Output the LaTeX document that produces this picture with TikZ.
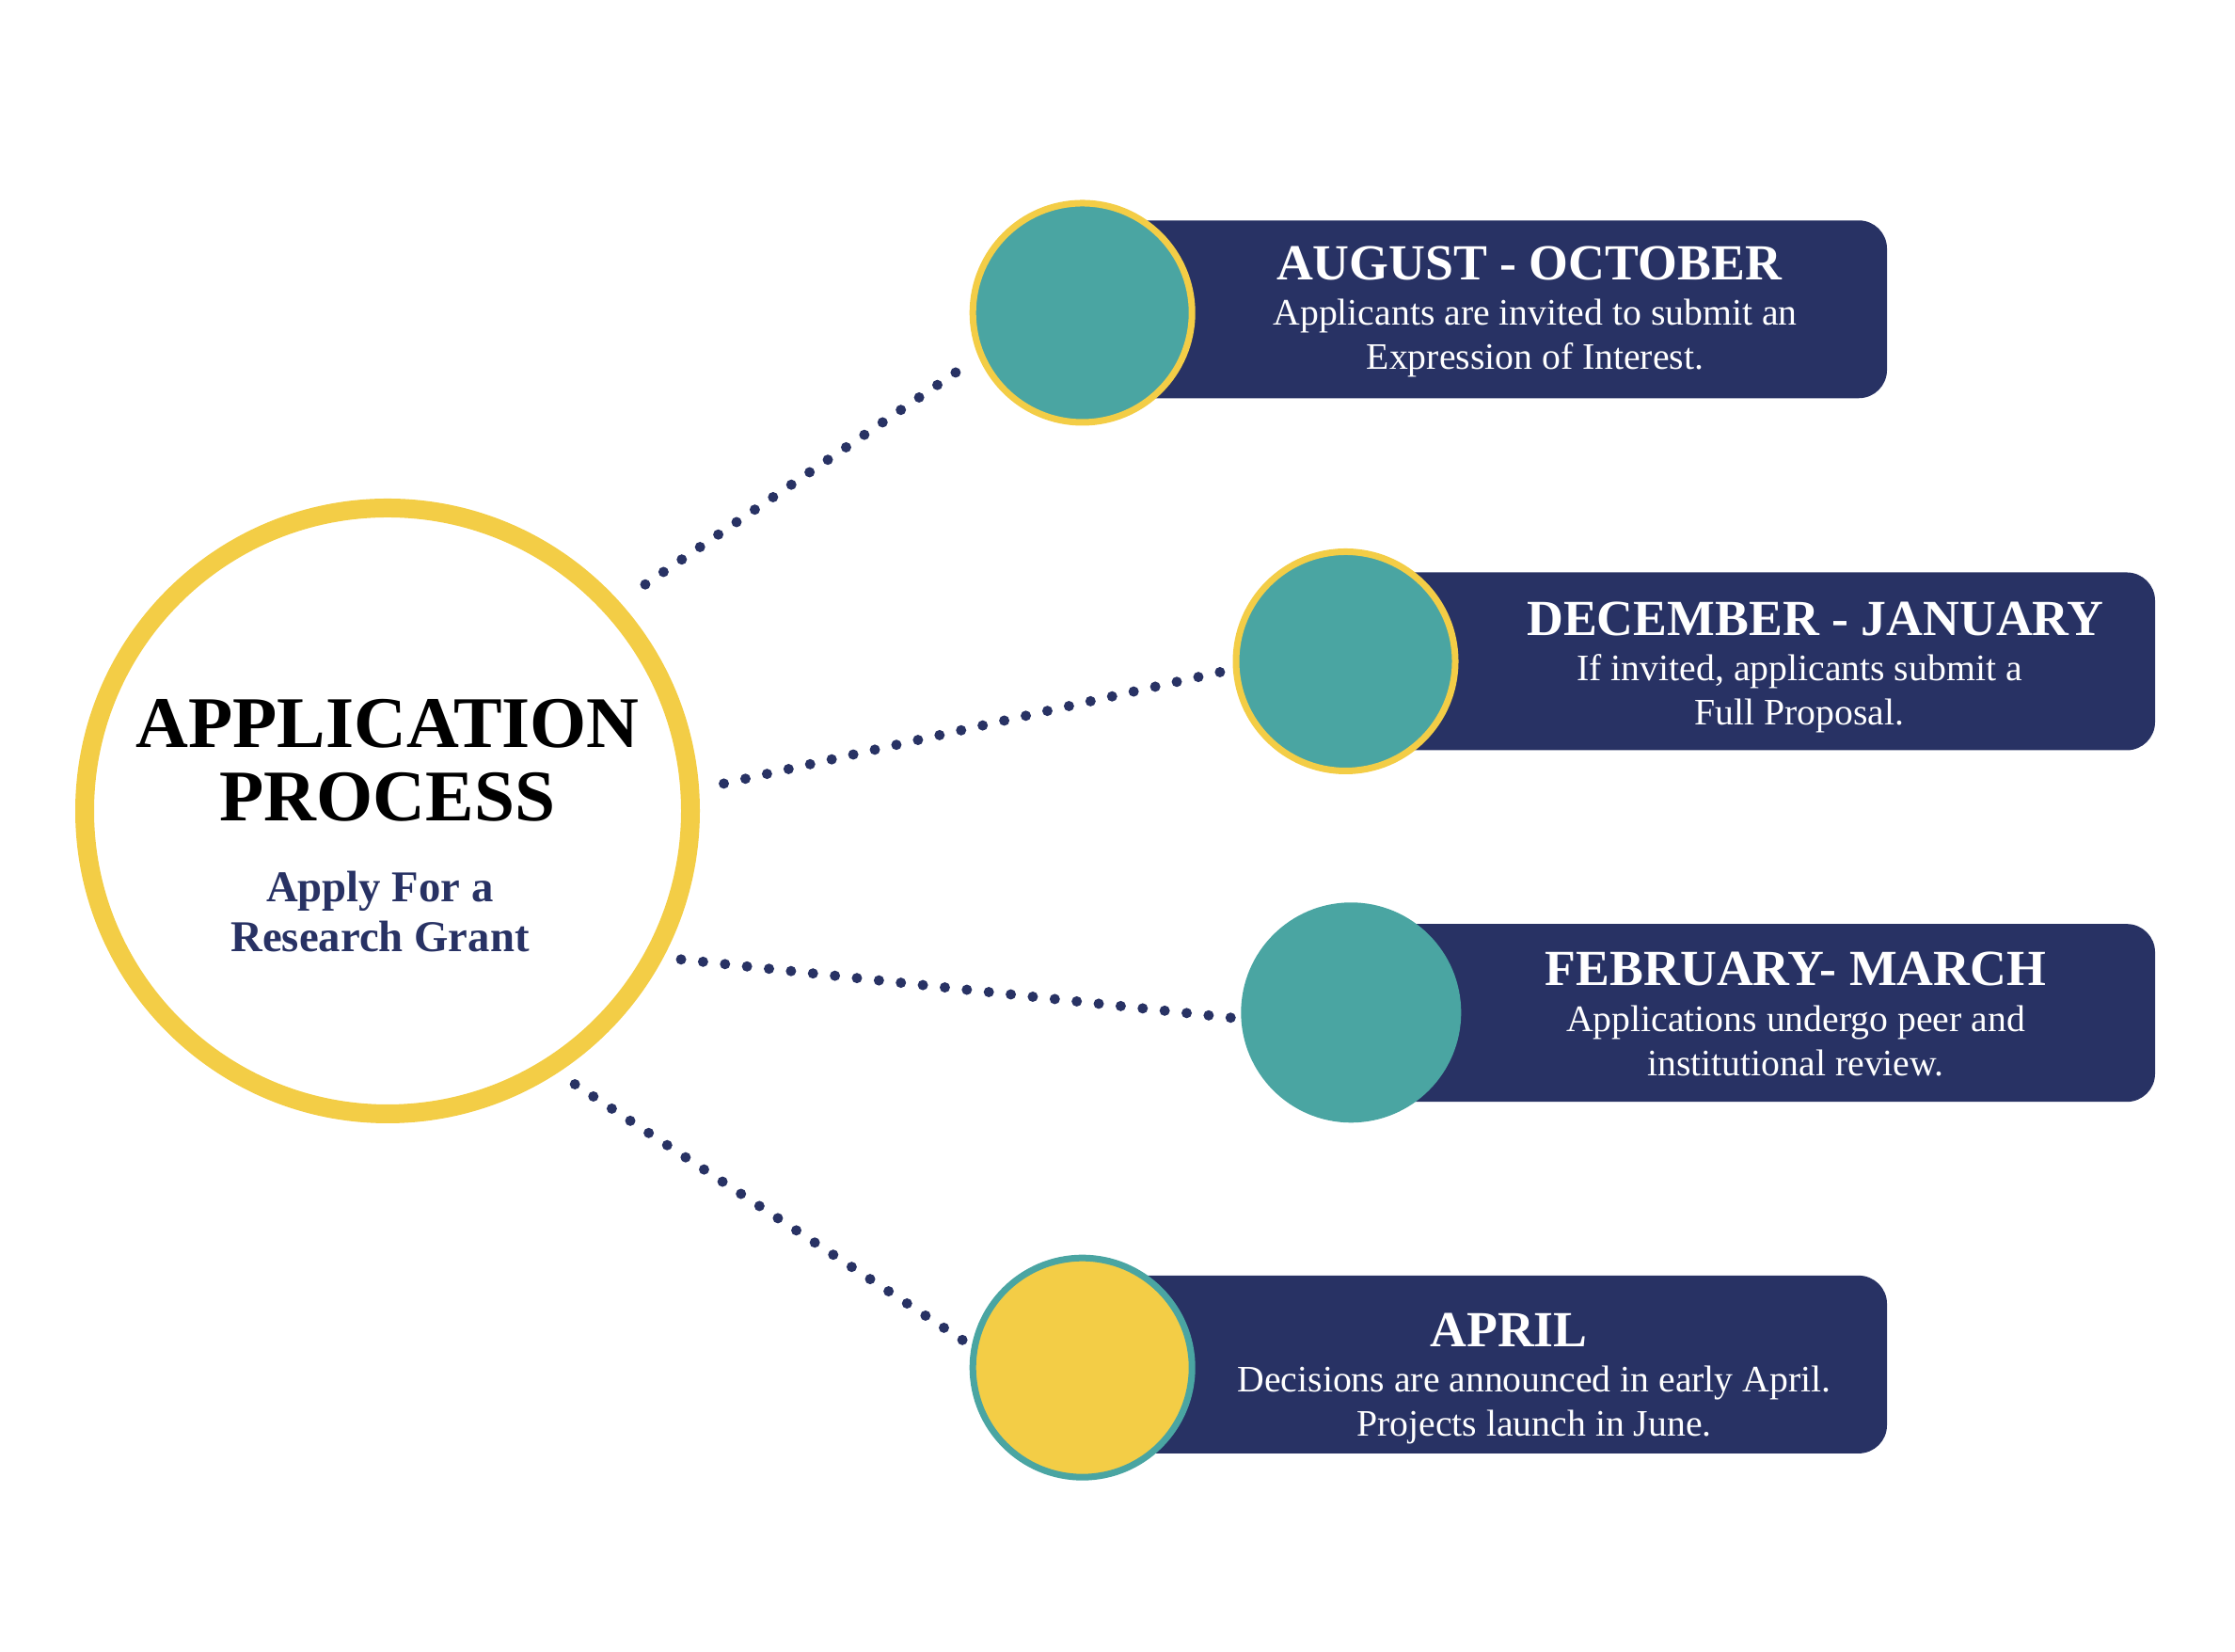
\documentclass[tikz,border=0pt]{standalone}
\usepackage{fontspec}
\setmainfont{Liberation Serif}
\usepackage[HTML]{xcolor}
\usetikzlibrary{positioning}

\definecolor{navy}{HTML}{283264}
\definecolor{sea}{HTML}{4AA5A2}
\definecolor{sun}{HTML}{F3CD46}

\tikzset{
  monthbox/.style={rectangle, rounded corners=0.3cm, fill=navy, minimum width=8.56cm, minimum height=1.89cm, inner sep=0},
  stagedot/.style={circle, minimum size=2.33cm, inner sep=0, line width=0.07cm},
  dotlink/.style={navy, line width=0.11cm, line cap=round, dash pattern=on 0pt off 0.235cm},
  headtext/.style={text=white, font=\fontsize{15.3}{13.4}\selectfont\bfseries, inner sep=0, anchor=base},
  bodytext/.style={text=white, font=\fontsize{11.3}{13.4}\selectfont, align=center, inner sep=0, anchor=base},
}

\begin{document}
\begin{tikzpicture}
\useasboundingbox (0,0) rectangle (23.76,17.56);
% centre circle
\node[circle, draw=sun, line width=0.2cm, minimum size=6.44cm, inner sep=0] (app) at (4.12,8.94) {};
\node[anchor=base, font=\fontsize{22}{22.2}\selectfont\bfseries, align=center, inner sep=0] (apptitle) at (4.12,8.833) {APPLICATION\\PROCESS};
\node[anchor=base, text=navy, font=\fontsize{13.3}{15.1}\selectfont\bfseries, align=center, inner sep=0] (appsub) at (4.04,7.44) {Apply For a\\Research Grant};

% boxes
\node[monthbox] (b1) at (15.78,14.272) {};
\node[monthbox, minimum width=8.61cm] (b2) at (18.605,10.53) {};
\node[monthbox, minimum width=8.55cm] (b3) at (18.635,6.793) {};
\node[monthbox] (b4) at (15.78,3.056) {};

% stage circles
\node[stagedot, fill=sea, draw=sun] (aug) at (11.507,14.235) {};
\node[stagedot, fill=sea, draw=sun] (dec) at (14.305,10.53) {};
\node[stagedot, fill=sea, minimum size=2.34cm] (feb) at (14.363,6.797) {};
\node[stagedot, fill=sun, draw=sea] (apr) at (11.507,3.023) {};

% dotted links
\draw[dotlink, shorten <=0.33cm, shorten >=0.28cm] (app.42) -- (aug.203.6);
\draw[dotlink, shorten <=0.27cm, shorten >=0.12cm] (app.4.3) -- (dec.184.7);
\draw[dotlink, shorten <=0.19cm, shorten >=0.065cm] (app.-28.1) -- (feb.183.2);
\draw[dotlink, shorten <=0.22cm, shorten >=0.1cm] (app.-57.4) -- (apr.169.8);

% texts
\node[headtext] (t1) at (16.255,14.58) {AUGUST - OCTOBER};
\node[bodytext] (d1) at (16.32,13.634) {Applicants are invited to submit an\\Expression of Interest.};
\node[headtext] (t2) at (19.30,10.805) {DECEMBER - JANUARY};
\node[bodytext] (d2) at (19.13,9.85) {If invited, applicants submit a\\Full Proposal.};
\node[headtext] (t3) at (19.09,7.08) {FEBRUARY- MARCH};
\node[bodytext] (d3) at (19.09,6.12) {Applications undergo peer and\\institutional review.};
\node[headtext] (t4) at (16.04,3.24) {APRIL};
\node[bodytext] (d4) at (16.31,2.29) {Decisions are announced in early April.\\Projects launch in June.};
\end{tikzpicture}
\end{document}
